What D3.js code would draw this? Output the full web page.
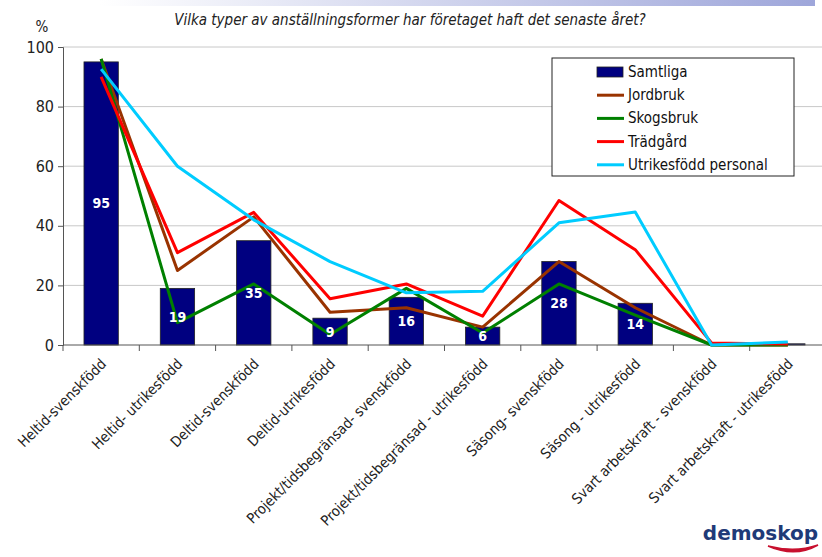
<!DOCTYPE html>
<meta charset="utf-8">
<head>
<style>
body { margin: 0; background: #fff; }
svg { display: block; }
</style>
</head>
<script src="https://d3js.org/d3.v7.min.js"></script>
<div id="chart"></div>
<script>

// categories along the x axis
var categories = ["Heltid-svenskfödd", "Heltid- utrikesfödd", "Deltid-svenskfödd", "Deltid-utrikesfödd",
  "Projekt/tidsbegränsad- svenskfödd", "Projekt/tidsbegränsad - utrikesfödd", "Säsong- svenskfödd",
  "Säsong - utrikesfödd", "Svart arbetskraft - svenskfödd", "Svart arbetskraft - utrikesfödd"];

// bars (Samtliga)
var samtliga = [95, 19, 35, 9, 16, 6, 28, 14, 0, 0.4];

// line series
var jordbruk    = [96, 25, 43, 11, 12.5, 6, 28, 12.5, 0, 0];
var skogsbruk   = [96, 7.5, 20.5, 3.5, 19, 4, 20.5, 10, 0, 0];
var tradgard    = [90, 31, 44.5, 15.5, 20.5, 9.7, 48.5, 32, 0.7, 0.3];
var utrikesfodd = [92.6, 60, 42, 28, 17.5, 18, 41, 44.6, 0, 1];

var yTicks = [0, 20, 40, 60, 80, 100];

var seriesNames = ["Jordbruk", "Skogsbruk", "Trädgård", "Utrikesfödd personal"];
var seriesValues = [jordbruk, skogsbruk, tradgard, utrikesfodd];
var seriesColors = ["#993300", "#008000", "#ff0000", "#00ccff"];

var W = 822, H = 557;
var margin = {top: 47, left: 63, bottom: 212, right: -4};
var width = W - margin.left - margin.right,
    height = H - margin.top - margin.bottom;

var svg = d3.select("#chart").append("svg")
  .attr("width", W).attr("height", H);

// top gradient band
var defs = svg.append("defs");
var grad = defs.append("linearGradient").attr("id", "topband");
grad.append("stop").attr("offset", "0%").attr("stop-color", "#ffffff");
grad.append("stop").attr("offset", "100%").attr("stop-color", "#9ea6da");
svg.append("rect").attr("x", 100).attr("y", 0).attr("width", 715).attr("height", 6)
  .attr("fill", "url(#topband)");

var condensed = "'Liberation Sans Narrow', 'DejaVu Sans Condensed', sans-serif";

// title
svg.append("text")
  .attr("x", 410).attr("y", 25)
  .attr("text-anchor", "middle")
  .style("font-family", condensed)
  .style("font-style", "italic")
  .style("font-size", "15px")
  .style("fill", "#222")
  .text("Vilka typer av anställningsformer har företaget haft det senaste året?");

svg.append("text")
  .attr("x", 42).attr("y", 32)
  .attr("text-anchor", "middle")
  .style("font-family", condensed)
  .style("font-size", "15px")
  .style("fill", "#222")
  .text("%");

var g = svg.append("g")
  .attr("transform", "translate(" + margin.left + "," + margin.top + ")");

var x = d3.scaleBand()
  .domain(categories)
  .range([0, width])
  .paddingInner(0.55)
  .paddingOuter(0.275);

var y = d3.scaleLinear()
  .domain([0, 100])
  .range([height, 0]);

// gridlines
g.append("g")
  .selectAll("line")
  .data(yTicks.slice(1))
  .enter().append("line")
    .attr("x1", 0).attr("x2", width)
    .attr("y1", function(d) { return y(d); })
    .attr("y2", function(d) { return y(d); })
    .attr("stroke", "#c8c8c8")
    .attr("stroke-width", 1);

// bars
g.append("g")
  .selectAll("rect")
  .data(samtliga)
  .enter().append("rect")
    .attr("x", function(d, i) { return x(categories[i]); })
    .attr("y", function(d) { return y(d); })
    .attr("width", x.bandwidth())
    .attr("height", function(d) { return height - y(d); })
    .attr("fill", "#000080")
    .attr("stroke", "#222")
    .attr("stroke-width", 0.8);

// y axis
var yAxis = g.append("g")
  .call(d3.axisLeft(y).tickValues(yTicks).tickSize(5).tickPadding(4));
yAxis.selectAll("text")
  .style("font-family", condensed)
  .style("font-size", "16px")
  .style("fill", "#222");
yAxis.select(".domain").attr("stroke", "#555");
yAxis.selectAll(".tick line").attr("stroke", "#555");

// x axis with ticks on band boundaries
var step = x.step();
var boundaries = d3.range(categories.length + 1).map(function(i) { return i * step; });
g.append("line")
  .attr("x1", 0).attr("x2", width)
  .attr("y1", height).attr("y2", height)
  .attr("stroke", "#555");
g.append("g")
  .selectAll("line")
  .data(boundaries)
  .enter().append("line")
    .attr("x1", function(d) { return d; }).attr("x2", function(d) { return d; })
    .attr("y1", height).attr("y2", height + 6)
    .attr("stroke", "#555");

// category labels
g.append("g")
  .selectAll("text")
  .data(categories)
  .enter().append("text")
    .attr("transform", function(d) {
      return "translate(" + (x(d) + x.bandwidth() / 2 + 6) + "," + (height + 20) + ") rotate(-45)";
    })
    .attr("text-anchor", "end")
    .style("font-family", "'DejaVu Sans Condensed', sans-serif")
    .style("font-size", "14.5px")
    .style("fill", "#222")
    .text(function(d) { return d; });

// lines
var line = d3.line()
  .x(function(d, i) { return x(categories[i]) + x.bandwidth() / 2; })
  .y(function(d) { return y(d); });

seriesValues.forEach(function(vals, k) {
  g.append("path")
    .datum(vals)
    .attr("d", line)
    .attr("fill", "none")
    .attr("stroke", seriesColors[k])
    .attr("stroke-width", 3)
    .attr("stroke-linejoin", "round");
});

// bar value labels
g.append("g")
  .selectAll("text")
  .data(samtliga)
  .enter().append("text")
    .filter(function(d) { return d >= 1; })
    .attr("x", function(d) { return x(categories[samtliga.indexOf(d)]) + x.bandwidth() / 2; })
    .attr("y", function(d) { return y(d / 2) + 5; })
    .attr("text-anchor", "middle")
    .style("font-family", condensed)
    .style("font-weight", "bold")
    .style("font-size", "14px")
    .style("fill", "#fff")
    .text(function(d) { return d; });

// legend
var lg = svg.append("g").attr("transform", "translate(552,58)");
lg.append("rect")
  .attr("width", 242).attr("height", 118)
  .attr("fill", "#fff").attr("stroke", "#222").attr("stroke-width", 1);

var legendItems = ["Samtliga"].concat(seriesNames);
var legendColors = ["#000080"].concat(seriesColors);

legendItems.forEach(function(name, i) {
  var yy = 14 + i * 23.2;
  if (i === 0) {
    lg.append("rect")
      .attr("x", 45).attr("y", yy - 5).attr("width", 26).attr("height", 10)
      .attr("fill", legendColors[i]).attr("stroke", "#222").attr("stroke-width", 0.8);
  } else {
    lg.append("line")
      .attr("x1", 45).attr("x2", 72).attr("y1", yy).attr("y2", yy)
      .attr("stroke", legendColors[i]).attr("stroke-width", 3);
  }
  lg.append("text")
    .attr("x", 76).attr("y", yy + 5)
    .style("font-family", condensed)
    .style("font-size", "15px")
    .style("fill", "#111")
    .text(name);
});

// logo
svg.append("text")
  .attr("x", 818).attr("y", 540)
  .attr("text-anchor", "end")
  .style("font-family", "'DejaVu Sans', sans-serif")
  .style("font-weight", "bold")
  .style("font-size", "20px")
  .style("fill", "#1f3a78")
  .text("demoskop");
svg.append("path")
  .attr("d", "M768,546 Q795,558 818,545 Q795,553 768,546 Z")
  .attr("fill", "#c8102e")
  .attr("stroke", "#c8102e")
  .attr("stroke-width", 1.5);

</script>
